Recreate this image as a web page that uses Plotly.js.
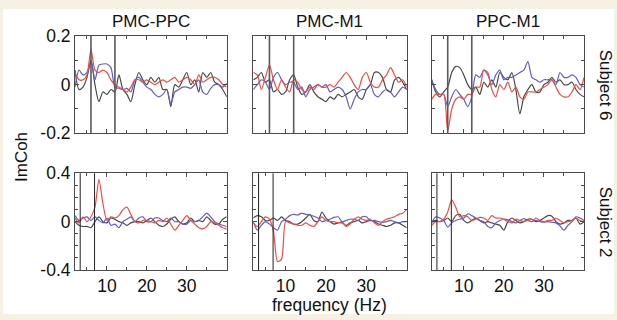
<!DOCTYPE html>
<html>
<head>
<meta charset="utf-8">
<script src="https://cdn.plot.ly/plotly-3.0.1.min.js"></script>
<style>html,body{margin:0;padding:0;background:#f6f1e2;} #chart{width:617px;height:320px;}</style>
</head>
<body>
<div id="chart"></div>
<script>
// frequency axis (Hz)
const freq = [2,3,4,5,6,7,8,9,10,11,12,13,14,15,16,17,18,19,20,21,22,23,24,25,26,27,28,29,30,31,32,33,34,35,36,37,38,39,40];

const columnTitles = ["PMC-PPC", "PMC-M1", "PPC-M1"];
const rowLabels = ["Subject 6", "Subject 2"];
const xTickVals = [10, 20, 30];
const row1YTicks = [-0.2, 0, 0.2];
const row2YTicks = [-0.4, 0, 0.4];
const row1Markers = [6, 12];     // vertical marker lines, Subject 6
const row2Markers = [3.3, 6.9];  // vertical marker lines, Subject 2

// Subject 6, PMC-PPC
const s6PmcPpcRed   = [0.05,0.02,0.02,0.04,0.145,0.06,0.05,0.06,0.05,0.02,0.0,-0.01,-0.02,-0.03,-0.01,0.02,0.02,0.01,0.02,0.01,0.0,0.01,0.02,0.01,0.02,0.03,0.01,0.02,0.03,0.02,0.0,0.04,0.01,0.02,0.03,0.03,0.02,0.0,-0.01];
const s6PmcPpcBlue  = [-0.01,0.06,0.04,0.05,0.1,0.02,0.08,0.085,0.085,0.07,-0.01,-0.015,-0.02,-0.015,-0.03,0.02,0.03,0.01,-0.01,-0.02,-0.04,-0.05,-0.04,-0.02,-0.08,-0.03,-0.02,-0.01,-0.01,-0.015,0.0,0.02,-0.03,-0.04,-0.015,0.0,0.0,-0.01,0.005];
const s6PmcPpcBlack = [0.06,-0.02,-0.01,0.03,0.1,0.0,-0.07,-0.03,-0.04,-0.02,-0.03,0.04,-0.02,-0.04,-0.07,0.0,0.05,0.02,0.0,0.03,0.01,0.03,-0.02,-0.02,-0.09,0.0,-0.01,0.02,0.05,0.0,0.02,-0.03,0.05,0.03,0.05,0.01,0.0,-0.02,-0.05];
// Subject 6, PMC-M1
const s6PmcM1Red    = [0.05,0.04,-0.02,0.03,0.08,0.02,-0.02,0.02,-0.01,-0.03,0.02,0.01,-0.02,-0.03,-0.01,-0.02,0.0,-0.01,-0.01,0.0,-0.01,0.01,0.03,0.05,0.03,0.0,-0.02,0.03,0.05,0.01,-0.01,-0.01,0.02,0.04,0.07,0.04,0.01,0.02,-0.01];
const s6PmcM1Blue   = [-0.02,0.0,0.02,0.01,-0.02,0.03,0.05,0.02,0.0,0.01,0.01,-0.02,-0.01,-0.05,-0.02,-0.01,0.0,-0.01,0.0,-0.03,-0.02,-0.01,-0.02,-0.05,-0.1,-0.06,-0.03,-0.02,-0.02,0.0,-0.04,-0.05,-0.03,-0.02,-0.03,-0.05,-0.03,-0.01,-0.02];
const s6PmcM1Black  = [0.02,0.03,0.05,0.01,0.02,-0.03,-0.02,-0.04,-0.03,0.02,0.04,-0.01,-0.04,-0.03,0.0,-0.03,-0.05,-0.06,-0.07,-0.05,-0.06,-0.04,-0.05,-0.04,-0.03,-0.02,-0.05,-0.06,-0.02,0.0,0.05,0.05,0.03,-0.02,-0.03,0.02,0.03,0.01,-0.02];
// Subject 6, PPC-M1
const s6PpcM1Red    = [-0.06,-0.04,-0.04,-0.04,-0.19,-0.1,-0.06,-0.05,-0.06,-0.04,-0.04,-0.01,-0.01,0.06,0.05,-0.02,-0.05,0.0,-0.02,0.01,-0.03,-0.01,-0.05,-0.06,-0.03,-0.03,-0.03,-0.02,-0.01,0.0,0.02,-0.01,-0.04,-0.05,-0.05,-0.03,0.0,-0.02,0.03];
const s6PpcM1Blue   = [0.02,-0.02,-0.04,-0.04,-0.09,-0.05,-0.02,-0.04,-0.06,-0.09,-0.05,0.04,0.03,0.06,0.04,0.0,0.04,0.06,0.02,0.03,0.03,0.04,0.05,0.06,0.095,0.03,0.02,0.01,0.02,0.02,0.02,0.0,0.05,0.03,0.03,0.04,0.03,0.0,-0.01];
const s6PpcM1Black  = [0.02,-0.03,-0.05,-0.03,-0.01,0.05,0.075,0.07,0.04,0.0,-0.02,-0.01,-0.04,0.01,-0.01,0.02,-0.01,0.05,0.03,0.02,0.05,-0.02,-0.12,-0.05,-0.02,0.0,-0.03,-0.03,0.0,0.01,0.03,0.01,0.02,0.0,0.0,0.01,-0.02,-0.04,-0.05];
// Subject 2, PMC-PPC
const s2PmcPpcRed   = [0.03,-0.01,0.04,0.0,0.04,0.12,0.35,0.15,0.01,0.04,0.03,0.05,0.1,0.12,0.06,0.0,-0.01,0.01,0.01,0.0,-0.01,0.01,0.0,0.03,-0.02,-0.07,-0.03,0.01,0.05,0.01,-0.02,-0.05,-0.06,-0.04,0.0,-0.01,-0.03,-0.05,-0.06];
const s2PmcPpcBlue  = [0.05,0.01,0.03,0.04,0.01,0.04,0.01,-0.01,0.03,-0.03,-0.02,-0.05,0.0,0.02,0.04,0.0,0.03,0.04,0.0,0.0,0.03,0.03,0.01,0.0,0.03,0.0,0.0,-0.02,-0.02,0.01,0.0,0.01,0.04,0.07,0.04,0.0,-0.02,-0.03,-0.04];
const s2PmcPpcBlack = [0.0,-0.03,-0.04,-0.04,-0.05,0.0,0.04,0.0,-0.01,0.03,0.02,0.0,-0.01,-0.03,-0.01,0.0,0.0,-0.01,0.01,0.03,0.0,-0.03,-0.04,-0.02,0.02,0.04,0.0,-0.02,-0.01,0.03,0.0,0.01,0.0,0.04,0.01,-0.02,-0.02,0.02,0.04];
// Subject 2, PMC-M1
const s2PmcM1Red    = [-0.01,-0.04,0.0,0.04,0.02,-0.08,-0.33,-0.31,0.0,-0.01,-0.02,-0.03,-0.03,-0.01,-0.03,-0.04,0.0,0.04,0.01,0.0,0.0,-0.01,0.0,-0.04,-0.02,0.02,0.04,0.02,0.01,0.02,-0.01,-0.03,0.0,0.02,0.03,0.04,0.06,0.07,0.1];
const s2PmcM1Blue   = [0.0,-0.07,-0.03,0.0,-0.02,-0.05,-0.07,0.0,0.02,0.05,0.06,0.055,0.07,0.06,0.055,0.045,0.03,0.0,0.01,0.02,0.035,0.04,0.0,0.01,0.02,0.02,0.01,0.04,0.04,0.01,0.01,0.0,-0.005,0.0,0.01,0.0,-0.01,0.0,0.0];
const s2PmcM1Black  = [0.03,0.05,0.04,0.01,0.01,0.03,0.01,0.04,0.01,0.0,-0.02,-0.02,0.0,0.03,0.06,0.01,0.0,0.08,0.03,0.0,-0.02,-0.01,-0.01,-0.03,-0.01,0.0,0.01,-0.01,0.0,0.01,0.0,-0.02,-0.03,-0.04,-0.03,-0.01,-0.01,-0.03,-0.05];
// Subject 2, PPC-M1
const s2PpcM1Red    = [-0.03,0.0,0.0,0.02,0.08,0.18,0.12,0.04,0.05,0.04,0.01,0.02,0.035,0.03,0.01,0.05,0.03,0.03,0.02,0.0,-0.01,0.02,0.01,0.0,0.01,0.0,0.03,0.01,0.0,0.01,0.01,0.03,0.01,-0.01,0.0,0.01,0.03,0.01,0.0];
const s2PpcM1Blue   = [-0.01,0.04,0.03,0.01,-0.045,-0.01,0.01,0.02,0.03,0.065,0.05,0.03,0.01,0.0,-0.04,-0.05,-0.01,0.01,0.02,0.015,0.0,-0.01,0.01,0.025,0.01,0.0,0.01,0.0,-0.005,0.0,-0.005,-0.01,-0.035,-0.07,-0.03,0.0,0.04,0.03,0.01];
const s2PpcM1Black  = [0.0,0.01,0.0,0.01,0.03,0.0,0.05,0.06,0.01,-0.01,0.01,0.03,0.01,-0.01,0.0,-0.01,-0.02,-0.03,-0.07,0.0,0.03,0.01,-0.01,0.0,0.02,0.02,0.0,0.01,0.03,0.05,0.045,0.0,-0.02,-0.01,0.01,0.01,0.03,-0.02,0.0];

const panels = [
  [s6PmcPpcBlack, s6PmcPpcBlue, s6PmcPpcRed],
  [s6PmcM1Black,  s6PmcM1Blue,  s6PmcM1Red],
  [s6PpcM1Black,  s6PpcM1Blue,  s6PpcM1Red],
  [s2PmcPpcBlack, s2PmcPpcBlue, s2PmcPpcRed],
  [s2PmcM1Black,  s2PmcM1Blue,  s2PmcM1Red],
  [s2PpcM1Black,  s2PpcM1Blue,  s2PpcM1Red]
];
const colors = ['#474747', '#5e5ecf', '#f04c40'];

const W = 617, H = 320;
const colPx = [[75, 226.7], [253.3, 406.7], [431.7, 584]];
const rowPx = [[36, 133.3], [173.3, 270]];
const FONT = '"Liberation Sans", Arial, Helvetica, sans-serif';
const axisColor = '#4a4a4a';

const data = [];
const layout = {
  width: W, height: H,
  margin: {l: 0, r: 0, t: 0, b: 0},
  paper_bgcolor: '#f6f1e2',
  plot_bgcolor: '#ffffff',
  showlegend: false,
  font: {family: FONT, size: 17, color: '#111'},
  shapes: [{
    type: 'rect', xref: 'paper', yref: 'paper', layer: 'below',
    x0: 3 / W, x1: 614 / W, y0: 1 - 314 / H, y1: 1 - 9 / H,
    fillcolor: '#ffffff', line: {width: 0}
  }],
  annotations: []
};

for (let p = 0; p < 6; p++) {
  const row = Math.floor(p / 3), col = p % 3;
  const idx = p + 1;
  const xa = 'xaxis' + (idx === 1 ? '' : idx);
  const ya = 'yaxis' + (idx === 1 ? '' : idx);
  const xr = 'x' + (idx === 1 ? '' : idx);
  const yr = 'y' + (idx === 1 ? '' : idx);
  const yTicks = row === 0 ? row1YTicks : row2YTicks;
  const yMax = row === 0 ? 0.2 : 0.4;

  layout[xa] = {
    domain: [colPx[col][0] / W, colPx[col][1] / W],
    anchor: yr, range: [2, 40],
    tickmode: 'array', tickvals: xTickVals, ticktext: xTickVals.map(String),
    showticklabels: row === 1,
    ticks: 'inside', ticklen: 4, tickwidth: 1, tickcolor: axisColor,
    minor: {dtick: 5, tick0: 0, ticks: 'inside', ticklen: 3, tickcolor: axisColor},
    showline: true, linecolor: axisColor, linewidth: 1, mirror: 'ticks',
    showgrid: false, zeroline: false,
    tickfont: {family: FONT, size: 17.5, color: '#111'}
  };
  layout[ya] = {
    domain: [1 - rowPx[row][1] / H, 1 - rowPx[row][0] / H],
    anchor: xr, range: [-yMax, yMax],
    tickmode: 'array', tickvals: yTicks, ticktext: yTicks.map(v => String(v)),
    showticklabels: col === 0,
    ticks: 'inside', ticklen: 4, tickwidth: 1, tickcolor: axisColor,
    minor: {dtick: 0.1, tick0: 0, ticks: 'inside', ticklen: 3, tickcolor: axisColor},
    showline: true, linecolor: axisColor, linewidth: 1, mirror: 'ticks',
    showgrid: false, zeroline: false,
    tickfont: {family: FONT, size: 17.5, color: '#111'}
  };

  panels[p].forEach((series, k) => {
    data.push({
      type: 'scatter', mode: 'lines', x: freq, y: series,
      xaxis: xr, yaxis: yr,
      line: {color: colors[k], width: 1.2, shape: 'spline', smoothing: 0.7},
      hoverinfo: 'skip'
    });
  });

  const markers = row === 0 ? row1Markers : row2Markers;
  markers.forEach(m => {
    layout.shapes.push({
      type: 'line', xref: xr, yref: yr + ' domain',
      x0: m, x1: m, y0: 0, y1: 1,
      line: {color: row === 0 ? '#5a5a5a' : '#222222', width: row === 0 ? 1.6 : 1}
    });
  });
}

columnTitles.forEach((t, c) => {
  layout.annotations.push({
    text: t, xref: 'paper', yref: 'paper',
    x: (colPx[c][0] + colPx[c][1]) / 2 / W, y: 1 - 21.5 / H,
    showarrow: false, xanchor: 'center', yanchor: 'middle',
    font: {family: FONT, size: 17, color: '#111'}
  });
});
rowLabels.forEach((t, r) => {
  layout.annotations.push({
    text: t, xref: 'paper', yref: 'paper',
    x: 605 / W, y: 1 - (rowPx[r][0] + rowPx[r][1]) / 2 / H,
    showarrow: false, xanchor: 'center', yanchor: 'middle', textangle: 90,
    font: {family: FONT, size: 17, color: '#111'}
  });
});
layout.annotations.push({
  text: 'ImCoh', xref: 'paper', yref: 'paper',
  x: 21 / W, y: 1 - 157 / H, showarrow: false,
  xanchor: 'center', yanchor: 'middle', textangle: -90,
  font: {family: FONT, size: 17, color: '#111'}
});
layout.annotations.push({
  text: 'frequency (Hz)', xref: 'paper', yref: 'paper',
  x: 329 / W, y: 1 - 305 / H, showarrow: false,
  xanchor: 'center', yanchor: 'middle',
  font: {family: FONT, size: 17.5, color: '#111'}
});

Plotly.newPlot('chart', data, layout, {displayModeBar: false, staticPlot: true});
</script>
</body>
</html>
